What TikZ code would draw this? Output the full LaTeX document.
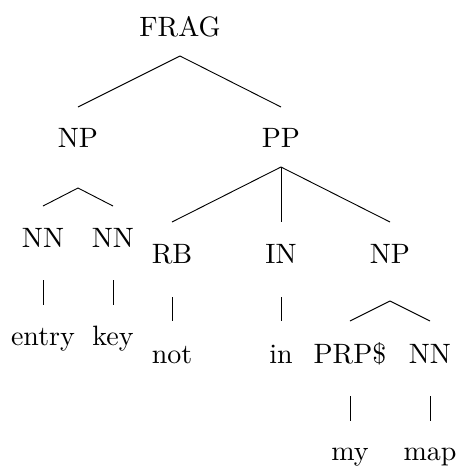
\documentclass[tikz,border=0pt]{standalone}
\usetikzlibrary{calc}
\tikzset{
  tag/.style={anchor=base, inner sep=0pt, outer sep=0pt},
  branchline/.style={line width=0.33pt, black}
}
% \branch{parent}{drop below parent baseline}{child}{rise above child baseline}
\newcommand{\branch}[4]{\draw[branchline] ($(#1.base)+(0,#2)$) -- ($(#3.base)+(0,-#4)$);}
\begin{document}
\begin{tikzpicture}[x=0.357pt, y=-0.357pt]
  \useasboundingbox (0,0) rectangle (457,466);
  % phrase labels
  \node[tag] (frag) at (180,36) {FRAG};
  \node[tag] (np) at (78,147) {NP};
  \node[tag] (pp) at (281,147) {PP};
  \node[tag] (nn1) at (43,247) {NN};
  \node[tag] (nn2) at (113,247) {NN};
  \node[tag] (rb) at (172,263) {RB};
  \node[tag] (in) at (281,263) {IN};
  \node[tag] (np2) at (390,263) {NP};
  \node[tag] (prp) at (350,363) {PRP\$};
  \node[tag] (nn3) at (430,363) {NN};
  % words
  \node[tag] (entry) at (43,345) {entry};
  \node[tag] (key) at (113,345) {key};
  \node[tag] (not) at (172,363) {not};
  \node[tag] (inw) at (281,363) {in};
  \node[tag] (my) at (350,460) {my};
  \node[tag] (map) at (430,460) {map};
  % branches
  \branch{frag}{20}{np}{40}
  \branch{frag}{20}{pp}{40}
  \branch{np}{41}{nn1}{41}
  \branch{np}{41}{nn2}{41}
  \branch{pp}{20}{rb}{41}
  \branch{pp}{20}{in}{41}
  \branch{pp}{20}{np2}{41}
  \branch{np2}{38}{prp}{42}
  \branch{np2}{38}{nn3}{42}
  \branch{nn1}{33}{entry}{40}
  \branch{nn2}{33}{key}{40}
  \branch{rb}{34}{not}{42}
  \branch{in}{34}{inw}{42}
  \branch{prp}{33}{my}{39}
  \branch{nn3}{33}{map}{39}
\end{tikzpicture}
\end{document}
